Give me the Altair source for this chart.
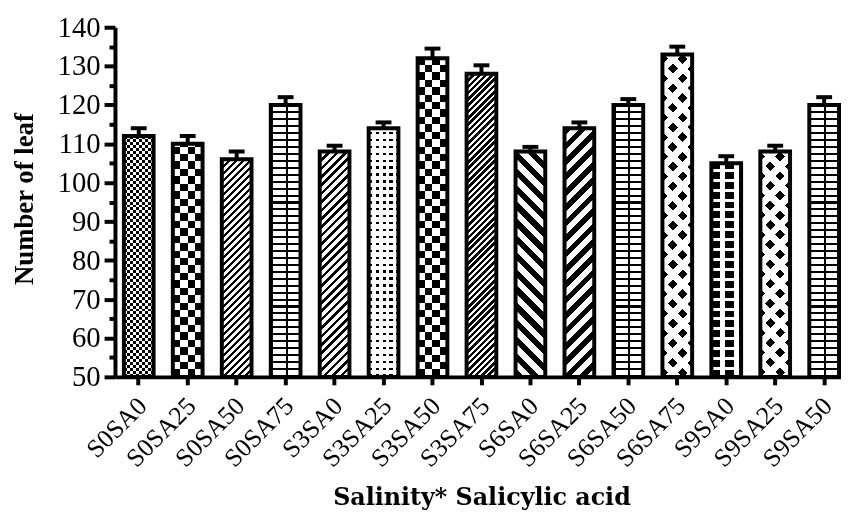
import math
import altair as alt
import pandas as pd

# ---- data ----
names = ["S0SA0", "S0SA25", "S0SA50", "S0SA75", "S3SA0", "S3SA25", "S3SA50", "S3SA75",
         "S6SA0", "S6SA25", "S6SA50", "S6SA75", "S9SA0", "S9SA25", "S9SA50"]
values = [112, 110, 106, 120, 108, 114, 132, 128, 108, 114, 120, 133, 105, 108, 120]
errors = [2.0, 2.0, 2.0, 2.0, 1.5, 1.5, 2.5, 2.2, 1.2, 1.5, 1.5, 2.0, 1.8, 1.5, 2.0]
y_ticks = list(range(50, 145, 5))

df = pd.DataFrame({"name": names, "value": values, "err": errors})
df["top"] = df["value"] + df["err"]

# ---- style ----
Y_MIN, Y_MAX = 50, 140
PLOT_W, PLOT_H = 733, 353
BAR_W = 30
SERIF = "Liberation Serif, Times New Roman, serif"
WIDE_SERIF = "DejaVu Serif, serif"

# pattern styles per bar: (direction, period px, black duty, blend)
checker_fine = [("h", 6, 0.5, None), ("v", 6, 0.5, "difference")]
checker_big = [("h", 15, 0.5, None), ("v", 15, 0.5, "difference")]
bricks = [("h", 7, 0.3, None), ("v", 15, 0.14, "darken")]
diamonds = [("d1", 14, 0.5, None), ("d2", 14, 0.5, "lighten")]
patterns = {
    "S0SA0": checker_fine,
    "S0SA25": checker_big,
    "S0SA50": [("d1", 5, 0.5, None)],
    "S0SA75": bricks,
    "S3SA0": [("d1", 6, 0.42, None)],
    "S3SA25": [("h", 7, 0.35, None), ("v", 7, 0.5, "lighten")],
    "S3SA50": checker_big,
    "S3SA75": [("d1", 4.5, 0.55, None)],
    "S6SA0": [("d2", 12, 0.5, None)],
    "S6SA25": [("d1", 11, 0.5, None)],
    "S6SA50": bricks,
    "S6SA75": diamonds,
    "S9SA0": [("h", 10, 0.7, None), ("v", 14, 0.6, "lighten")],
    "S9SA25": diamonds,
    "S9SA50": bricks,
}


def stripe_stops(L, period, duty):
    stops = []
    n = int(math.ceil(L / period)) + 1
    for k in range(n):
        a = k * period / L
        b = (k + duty) * period / L
        c = (k + 1) * period / L
        for off, col in ((a, "black"), (b, "black"), (b, "white"), (c, "white")):
            stops.append({"offset": round(min(max(off, 0.0), 1.0), 5), "color": col})
    return stops


def gradient(kind, period, duty, H):
    W = BAR_W
    if kind == "h":
        L, coords = H, (0, 1, 0, 0)
    elif kind == "v":
        L, coords = W, (0, 0, 1, 0)
    else:
        s = W * W + H * H
        gx = (W + H) * W / s
        gy = (W + H) * H / s
        L = W + H
        period = period * math.sqrt(2)
        coords = (0, 0, gx, gy) if kind == "d1" else (0, 1, gx, 1 - gy)
    x1, y1, x2, y2 = coords
    return {"gradient": "linear", "x1": x1, "y1": y1, "x2": x2, "y2": y2,
            "stops": stripe_stops(L, period, duty)}


x_enc = alt.X("name:N", sort=names,
              scale=alt.Scale(domain=names, range=[0, 740], paddingInner=0.393, paddingOuter=0.182),
              axis=alt.Axis(labelAngle=-45, labelAlign="right", labelBaseline="middle",
                            labelFont=SERIF, labelFontSize=26, labelColor="black",
                            labelPadding=17, labelOffset=4,
                            tickSize=8, tickWidth=4, tickColor="black",
                            domainWidth=4, domainColor="black",
                            titleFont=WIDE_SERIF, titleFontWeight="bold", titleFontSize=24,
                            titleColor="black",
                            titleY=129, titleBaseline="alphabetic"),
              title="Salinity* Salicylic acid")

y_scale = alt.Scale(domain=[Y_MIN, Y_MAX], nice=False, zero=False)
y_axis = alt.Axis(values=y_ticks,
                  labelExpr="datum.value % 10 === 0 ? datum.label : ''",
                  tickSize={"condition": {"test": "datum.value % 10 === 0", "value": 11}, "value": 6},
                  tickWidth=4, tickColor="black", domainWidth=4, domainColor="black",
                  labelFont=SERIF, labelFontSize=29, labelColor="black", labelPadding=4,
                  grid=False,
                  titleFont=SERIF, titleFontWeight="bold", titleFontSize=27, titleColor="black",
                  titleX=-83, titleY=173, titleAngle=-90, titleAlign="center", titleBaseline="alphabetic")
Y_TITLE = "Number of leaf"

layers = []
for n, v in zip(names, values):
    H = (v - Y_MIN) / (Y_MAX - Y_MIN) * PLOT_H
    for kind, period, duty, blend in patterns[n]:
        mk = dict(fill=gradient(kind, period, duty, H), strokeWidth=0)
        if blend:
            mk["blend"] = blend
        layers.append(
            alt.Chart(df).transform_filter(alt.datum.name == n).mark_bar(**mk).encode(
                x=x_enc,
                y=alt.Y("value:Q", scale=y_scale, axis=y_axis, title=Y_TITLE),
                y2=alt.Y2(datum=Y_MIN),
            )
        )

outline = alt.Chart(df).mark_bar(fillOpacity=0, stroke="black", strokeWidth=4).encode(
    x=x_enc,
    y=alt.Y("value:Q", scale=y_scale, axis=y_axis, title=Y_TITLE),
    y2=alt.Y2(datum=Y_MIN),
)
err_rule = alt.Chart(df).mark_rule(color="black", strokeWidth=4).encode(
    x=x_enc,
    y=alt.Y("value:Q", scale=y_scale, axis=y_axis, title=Y_TITLE),
    y2="top:Q",
)
err_cap = alt.Chart(df).mark_tick(color="black", thickness=4, size=16, opacity=1).encode(
    x=x_enc,
    y=alt.Y("top:Q", scale=y_scale, axis=y_axis, title=Y_TITLE),
)

chart = alt.layer(*layers, outline, err_rule, err_cap).properties(
    width=PLOT_W, height=PLOT_H,
    autosize=alt.AutoSizeParams(type="none"),
    padding={"left": 108, "top": 17, "right": 0, "bottom": 133},
    background="white",
).configure_view(stroke=None)

chart.save("out.html", embed_options={"renderer": "svg", "actions": False})
